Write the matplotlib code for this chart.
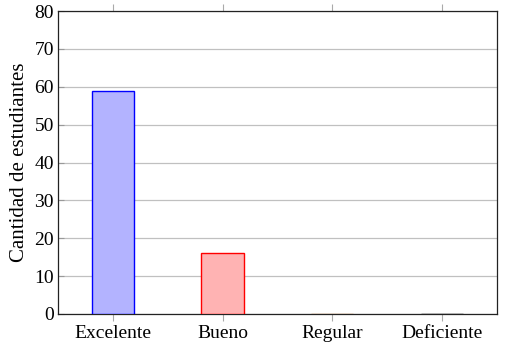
import matplotlib
matplotlib.use("Agg")
import matplotlib.pyplot as plt

categories = ["Excelente", "Bueno", "Regular", "Deficiente"]
values = [59, 16, 0, 0]
fills = ["#b3b3ff", "#ffb3b3", "#ecd9c6", "#b3b3b3"]
edges = ["#0000ff", "#ff0000", "#bf8040", "#000000"]

plt.rcParams['font.family'] = ['Liberation Serif', 'DejaVu Serif']

fig = plt.figure(figsize=(5.06, 3.46), dpi=100)
ax = fig.add_axes([0.1146, 0.0925, 0.8676, 0.8755])
x = list(range(len(categories)))
ax.bar(x, values, width=0.385, color=fills, edgecolor=edges, linewidth=1.0, zorder=3)
ax.set_xlim(-0.5, 3.5)
ax.set_ylim(0, 80)
ax.set_yticks(range(0, 81, 10))
ax.set_xticks(x)
ax.set_xticklabels(categories, fontsize=14)
ax.tick_params(axis='y', labelsize=14, direction='in', length=4, color='#999999', right=False, pad=3)
ax.tick_params(axis='x', direction='out', length=5, color='#aaaaaa', top=True, pad=3)
ax.grid(axis='y', color='#c0c0c0', linewidth=0.9, zorder=0)
ax.set_ylabel("Cantidad de estudiantes", fontsize=15, labelpad=4)
for s in ax.spines.values():
    s.set_linewidth(0.9)
    s.set_color('#222222')
fig.savefig("out.png", dpi=100)
